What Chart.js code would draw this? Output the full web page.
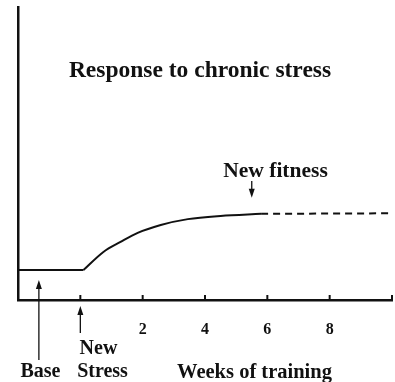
<!DOCTYPE html>
<html>
<head>
<meta charset="utf-8">
<script src="https://cdn.jsdelivr.net/npm/chart.js@4/dist/chart.umd.min.js"></script>
<style>
html,body{margin:0;padding:0;background:#fff;}
#wrap{width:395px;height:382px;position:relative;}
</style>
</head>
<body>
<div id="wrap"><canvas id="c" width="395" height="382"></canvas></div>
<script>
// ---- data (weeks vs. fitness level, arbitrary units 0-100) ----
const baseWeeks = [-2, 0.1];
const baseLevel = [10.2, 10.2];
const curveWeeks = [0.1, 0.74, 1.29, 1.84, 2.58, 3.45, 4.5, 5.8];
const curveLevel = [10.2, 16.4, 19.8, 22.9, 25.6, 27.6, 28.7, 29.4];
const plateauWeeks = [5.8, 10.1];
const plateauLevel = [29.4, 29.6];
const tickWeeks = [0, 2, 4, 6, 8, 10];
const tickLabels = ["2", "4", "6", "8"];
const titleText = "Response to chronic stress";
const xTitle = "Weeks of training";
const fitnessLabel = "New fitness";
const fitnessWeek = 5.5;
const baseLabel = "Base";
const baseArrowWeek = -1.33;
const stressLabel = ["New", "Stress"];
const stressWeek = 0;

const toPts = (xs, ys) => xs.map((x, i) => ({x: x, y: ys[i]}));
const SERIF = "'Liberation Serif', 'DejaVu Serif', serif";

function arrow(ctx, x, yTail, yTip) {
  const dir = yTip < yTail ? -1 : 1;
  ctx.beginPath();
  ctx.moveTo(x, yTail);
  ctx.lineTo(x, yTip - dir * 6);
  ctx.stroke();
  ctx.beginPath();
  ctx.moveTo(x, yTip);
  ctx.lineTo(x - 3, yTip - dir * 9);
  ctx.lineTo(x + 3, yTip - dir * 9);
  ctx.closePath();
  ctx.fill();
}

const deco = {
  id: 'deco',
  afterDraw(chart) {
    const ctx = chart.ctx;
    const xs = chart.scales.x, ys = chart.scales.y;
    const area = chart.chartArea;
    ctx.save();
    ctx.strokeStyle = '#111';
    ctx.fillStyle = '#111';
    // tick marks (inside, above axis)
    ctx.lineWidth = 2;
    tickWeeks.forEach(w => {
      const px = xs.getPixelForValue(w);
      ctx.beginPath();
      ctx.moveTo(px, area.bottom);
      ctx.lineTo(px, area.bottom - 5);
      ctx.stroke();
    });
    // title
    ctx.textAlign = 'center';
    ctx.textBaseline = 'alphabetic';
    ctx.font = 'bold 23.5px ' + SERIF;
    ctx.fillText(titleText, 200, 77);
    // New fitness
    ctx.font = 'bold 21.5px ' + SERIF;
    const fx = xs.getPixelForValue(fitnessWeek);
    ctx.fillText(fitnessLabel, 275.5, 177);
    ctx.lineWidth = 1.3;
    arrow(ctx, fx, 181, ys.getPixelForValue(plateauLevel[0]) - 16);
    // Base arrow + label
    const bx = xs.getPixelForValue(baseArrowWeek);
    arrow(ctx, bx, 360, ys.getPixelForValue(baseLevel[0]) + 10);
    ctx.font = 'bold 20px ' + SERIF;
    ctx.fillText(baseLabel, 40.5, 377);
    // New Stress arrow + label
    const sx = xs.getPixelForValue(stressWeek);
    arrow(ctx, sx, 333, area.bottom + 6);
    ctx.fillText(stressLabel[0], 98.5, 354);
    ctx.fillText(stressLabel[1], 102.5, 377);
    // x title
    ctx.font = 'bold 20.5px ' + SERIF;
    ctx.fillText(xTitle, 254.5, 378);
    ctx.restore();
  }
};

new Chart(document.getElementById('c'), {
  type: 'line',
  data: {
    datasets: [
      {data: toPts(baseWeeks, baseLevel), borderColor: '#111', borderWidth: 2, pointRadius: 0, tension: 0},
      {data: toPts(curveWeeks, curveLevel), borderColor: '#111', borderWidth: 2, pointRadius: 0, cubicInterpolationMode: 'monotone'},
      {data: toPts(plateauWeeks, plateauLevel), borderColor: '#111', borderWidth: 2, pointRadius: 0, borderDash: [7, 5], tension: 0}
    ]
  },
  options: {
    responsive: false,
    animation: false,
    layout: {padding: {top: 7, right: 3, left: 0, bottom: 0}},
    plugins: {legend: {display: false}, tooltip: {enabled: false}, title: {display: false}},
    scales: {
      x: {
        type: 'linear', min: -2, max: 10,
        grid: {display: false},
        border: {display: true, color: '#111', width: 2.5},
        ticks: {
          stepSize: 2, autoSkip: false, maxRotation: 0, padding: 12,
          color: '#111', font: {family: SERIF, size: 16, weight: 'bold'},
          callback: v => tickLabels.includes(String(v)) ? String(v) : ''
        },
        afterFit: s => { s.height = 82; s.paddingLeft = 0; s.paddingRight = 0; }
      },
      y: {
        type: 'linear', min: 0, max: 100,
        grid: {display: false},
        border: {display: true, color: '#111', width: 2.5},
        ticks: {display: false},
        afterFit: s => { s.width = 18; s.paddingTop = 0; s.paddingBottom = 0; }
      }
    }
  },
  plugins: [deco]
});
</script>
</body>
</html>
